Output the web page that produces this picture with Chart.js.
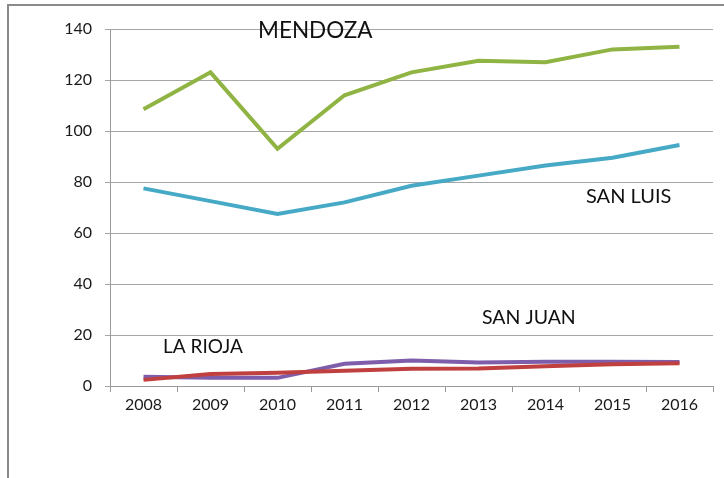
<!DOCTYPE html>
<html>
<head>
<meta charset="utf-8">
<script src="https://cdn.jsdelivr.net/npm/chart.js@4"></script>
<style>
  html, body { margin: 0; padding: 0; background: #fff; }
  #wrap { position: relative; width: 724px; height: 478px; overflow: hidden; }
  #frame { position: absolute; left: 7px; top: 4px; width: 730px; height: 490px;
           border-left: 2px solid #8a8a8a; border-top: 2px solid #8a8a8a; }
  canvas { position: absolute; left: 0; top: 0; }
</style>
</head>
<body>
<div id="wrap">
  <div id="frame"></div>
  <canvas id="myChart" width="724" height="478"></canvas>
</div>
<script>
// years on the x axis
const years = ['2008', '2009', '2010', '2011', '2012', '2013', '2014', '2015', '2016'];

// values
const mendoza = [108.5, 123, 93, 114, 123, 127.5, 127, 132, 133];
const sanLuis = [77.5, 72.5, 67.5, 72, 78.5, 82.5, 86.5, 89.5, 94.5];
const laRioja = [2.4, 4.7, 5.2, 6, 6.8, 6.9, 7.7, 8.5, 8.9];
const sanJuan = [3.6, 3.2, 3.2, 8.7, 10, 9.2, 9.5, 9.5, 9.4];

const yTicks = [0, 20, 40, 60, 80, 100, 120, 140];

// text labels drawn on the chart (name, left x, top y, size in px)
const labelNames = ['MENDOZA', 'SAN LUIS', 'SAN JUAN', 'LA RIOJA'];
const labelSpots = [[258, 19, 22.5], [586, 187, 20], [482, 308, 19.5], [163, 337, 19]];

const FONT = 'Lato, "Open Sans", sans-serif';

const textPlugin = {
    id: 'seriesNames',
    afterDraw(chart) {
        const c = chart.ctx;
        c.save();
        c.fillStyle = '#111';
        c.textBaseline = 'top';
        c.textAlign = 'left';
        labelNames.forEach((name, i) => {
            const s = labelSpots[i];
            c.font = s[2] + 'px ' + FONT;
            c.fillText(name, s[0], s[1]);
        });
        c.restore();
    }
};

function serie(data, color){
    return {
        data: data,
        borderColor: color,
        backgroundColor: color,
        borderWidth: 4,
        pointRadius: 0,
        tension: 0,
        fill: false
    };
}

const ctx = document.getElementById('myChart').getContext('2d');
const myChart = new Chart(ctx, {
    type: 'line',
    data: {
        labels: years,
        datasets: [
            serie(mendoza, '#8fb443'),
            serie(sanLuis, '#46a9c6'),
            serie(laRioja, '#c0403f'),
            serie(sanJuan, '#7e5eab')
        ]
    },
    plugins: [textPlugin],
    options: {
        responsive: false,
        animation: false,
        layout: { padding: { top: 29, right: 11, left: 0, bottom: 0 } },
        plugins: {
            legend: { display: false },
            tooltip: { enabled: false }
        },
        scales: {
            x: {
                offset: true,
                afterFit(scale){ scale.height = 92; },
                grid: {
                    offset: true,
                    drawOnChartArea: false,
                    drawTicks: true,
                    tickLength: 6,
                    color: '#9a9a9a'
                },
                border: { color: '#9a9a9a', width: 1 },
                ticks: {
                    color: '#1a1a1a',
                    font: { family: FONT, size: 16 },
                    padding: 3,
                    maxRotation: 0
                }
            },
            y: {
                min: 0,
                max: 140,
                afterFit(scale){ scale.width = 110; },
                afterBuildTicks(scale){ scale.ticks = yTicks.map(v => ({ value: v })); },
                grid: {
                    color: '#a6a6a6',
                    tickLength: 5,
                    drawTicks: true
                },
                border: { color: '#9a9a9a', width: 1 },
                ticks: {
                    color: '#1a1a1a',
                    font: { family: FONT, size: 16 },
                    padding: 13
                }
            }
        }
    }
});
</script>
</body>
</html>
